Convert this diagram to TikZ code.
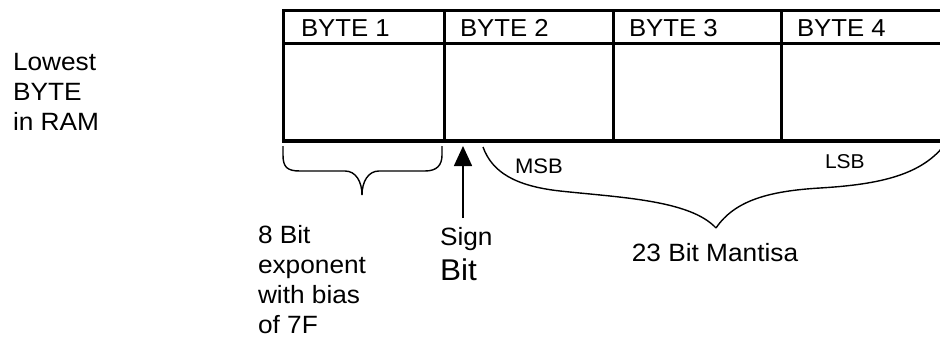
\documentclass[tikz,border=0pt]{standalone}
\usepackage{fontspec}
\setmainfont[FakeStretch=1.05]{Liberation Sans}
\usetikzlibrary{arrows.meta}
\begin{document}
\begin{tikzpicture}[x=1pt,y=-1pt,
  lbl/.style={inner sep=0pt, outer sep=0pt, font=\fontsize{25}{30}\selectfont, align=left},
  hdr/.style={inner sep=0pt, outer sep=0pt, anchor=base west, font=\fontsize{24.5}{29}\selectfont},
  small/.style={inner sep=0pt, outer sep=0pt, anchor=base west, font=\fontsize{21}{25}\selectfont},
  gridline/.style={line width=3.4pt},
  bracepath/.style={line width=1.4pt},
  arr/.style={line width=1.6pt, -{Triangle[width=18pt,length=20pt]}}]
\useasboundingbox (0,0) rectangle (940,337);
\clip (0,0) rectangle (940,337);
% table
\draw[gridline] (950,10.3) -- (283.7,10.3) -- (283.7,141) -- (950,141);
\draw[gridline] (283.7,43.3) -- (950,43.3);
\foreach \x in {444.3,613.3,781.7} \draw[gridline] (\x,10.3) -- (\x,141);
% header texts
\node[hdr] (b1) at (301,37) {BYTE 1};
\node[hdr] (b2) at (460,37) {BYTE 2};
\node[hdr] (b3) at (629,37) {BYTE 3};
\node[hdr] (b4) at (797,37) {BYTE 4};
% labels
\node[lbl, anchor=north west] (low) at (13,53) {Lowest\\BYTE\\in RAM};
\node[lbl, anchor=north west] (expo) at (258,225) {8 Bit\\exponent\\with bias\\of 7F};
\node[lbl, anchor=north west, font=\fontsize{25}{35}\selectfont] (sign) at (440,227) {Sign\\{\fontsize{30}{35}\selectfont Bit}};
\node[lbl, anchor=north] (mant) at (715,243) {23 Bit Mantisa};
\node[small] (msb) at (515,173) {MSB};
\node[small, font=\fontsize{20}{24}\selectfont] (lsb) at (825,168) {LSB};
% sign arrow
\coordinate (tail) at (463,218);
\coordinate (tip) at (463,146);
\draw[arr] (tail) -- (tip);
% exponent brace
\draw[bracepath] (283,146) -- (283,155) .. controls (283,167) and (287,171) .. (300,171) -- (345,171) .. controls (356,171) and (362,182) .. (362,195);
\draw[bracepath] (362,195) .. controls (362,182) and (368,171) .. (379,171) -- (425,171) .. controls (437,171) and (442,165) .. (442,155) -- (442,146);
% mantissa brace
\draw[bracepath] (483,147) .. controls (492,172) and (515,186) .. (560,191) .. controls (620,197.5) and (690,200) .. (716,228);
\draw[bracepath] (716,228) .. controls (735,200) and (770,191) .. (820,188) .. controls (880,184.4) and (925,175) .. (948,140);
\end{tikzpicture}
\end{document}
